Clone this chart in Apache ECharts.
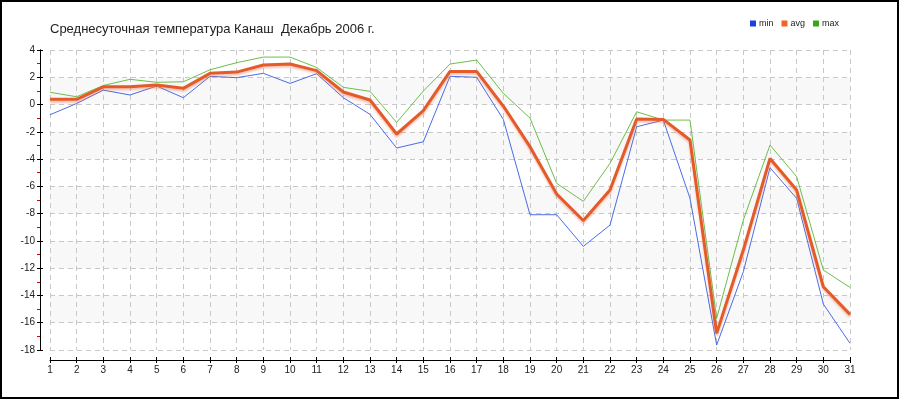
<!DOCTYPE html>
<html><head><meta charset="utf-8">
<script src="https://cdn.jsdelivr.net/npm/echarts@6/dist/echarts.min.js"></script>
<style>html,body{margin:0;padding:0;background:#fff}#c{width:900px;height:400px}</style>
</head><body><div id="c"></div>
<script>
const days = ['1','2','3','4','5','6','7','8','9','10','11','12','13','14','15','16','17','18','19','20','21','22','23','24','25','26','27','28','29','30','31'];
const minT = [-0.75,0.08,1.06,0.7,1.36,0.5,2.07,1.97,2.29,1.55,2.26,0.5,-0.72,-3.19,-2.73,2.07,2.0,-1.09,-8.08,-8.08,-10.4,-8.84,-1.63,-1.14,-6.88,-17.64,-12.26,-4.63,-6.88,-14.63,-17.51];
const avgT = [0.38,0.38,1.3,1.3,1.43,1.19,2.29,2.38,2.9,2.97,2.49,0.92,0.33,-2.16,-0.45,2.43,2.43,-0.11,-3.09,-6.56,-8.5,-6.27,-1.06,-1.09,-2.6,-16.78,-10.67,-3.95,-6.27,-13.36,-15.39];
const maxT = [0.9,0.57,1.4,1.85,1.63,1.67,2.55,3.07,3.48,3.48,2.72,1.26,0.97,-1.31,0.99,2.97,3.26,0.82,-0.99,-5.78,-7.1,-4.31,-0.53,-1.14,-1.14,-15.68,-8.47,-2.97,-5.29,-12.14,-13.41];
const yMin = -18, yMax = 4, yStep = 2;

const chart = echarts.init(document.getElementById('c'));
const font = 'Liberation Sans, Arial, sans-serif';
chart.setOption({
  animation: false,
  backgroundColor: '#fff',
  title: {
    text: 'Среднесуточная температура Канаш  Декабрь 2006 г.',
    left: 45, top: 18,
    textStyle: {fontFamily: font, fontSize: 13, fontWeight: 'normal', color: '#222'}
  },
  legend: {
    right: 56, top: 14,
    itemWidth: 6, itemHeight: 6, itemGap: 8,
    icon: 'rect',
    textStyle: {fontFamily: font, fontSize: 9, color: '#222', padding: [0,0,0,-2]},
    data: ['min','avg','max']
  },
  grid: {left: 50, right: 50, top: 50, bottom: 50},
  xAxis: [{
    type: 'category', data: days, boundaryGap: false, offset: 10,
    axisLine: {show: true, onZero: false, lineStyle: {color: '#000', width: 1}},
    axisTick: {show: true, length: 3, interval: 0, lineStyle: {color: '#000'}},
    axisLabel: {interval: 0, fontFamily: font, fontSize: 10, color: '#222', margin: 5},
    splitLine: {show: true, interval: 0, lineStyle: {color: '#c8c8c8', type: [5,4]}}
  }, {
    type: 'category', data: days, boundaryGap: false, offset: 10, position: 'bottom',
    axisLine: {show: false, onZero: false},
    axisTick: {show: true, inside: true, length: 3, interval: 0, lineStyle: {color: '#000'}},
    axisLabel: {show: false}, splitLine: {show: false}
  }],
  yAxis: [{
    type: 'value', min: yMin, max: yMax, interval: yStep, offset: 10, position: 'left',
    axisLine: {show: true, onZero: false, lineStyle: {color: '#000', width: 1}},
    axisTick: {show: true, length: 3, lineStyle: {color: '#000'}},
    minorTick: {show: true, splitNumber: 2, length: 3, lineStyle: {color: '#e00000'}},
    axisLabel: {fontFamily: font, fontSize: 10, color: '#222', margin: 5},
    splitLine: {show: true, lineStyle: {color: '#c8c8c8', type: [5,4]}},
    splitArea: {show: true, areaStyle: {color: ['#ffffff', '#f8f8f8']}}
  }, {
    type: 'value', min: yMin, max: yMax, interval: yStep, offset: 10, position: 'left',
    axisLine: {show: true, onZero: false, lineStyle: {color: '#000', width: 1}},
    axisTick: {show: true, inside: true, length: 3, lineStyle: {color: '#000'}},
    axisLabel: {show: false}, splitLine: {show: false}
  }],
  graphic: [{
    type: 'rect', shape: {x: 1, y: 1, width: 897, height: 397},
    style: {fill: 'none', stroke: '#000', lineWidth: 2}, silent: true, z: 100
  }],
  series: [
    {name: 'min', type: 'line', data: minT, symbol: 'none', color: '#1d3fe0',
     lineStyle: {color: '#4a6ce8', width: 1}, z: 3},
    {name: 'max', type: 'line', data: maxT, symbol: 'none', color: '#3aa516',
     lineStyle: {color: '#6cbf4a', width: 1}, z: 3},
    {name: 'avg', type: 'line', data: avgT, symbol: 'none', color: '#ef6526',
     lineStyle: {color: '#e35b2a', width: 3, shadowColor: 'rgba(235,110,70,0.4)', shadowBlur: 2, shadowOffsetY: 2}, z: 4}
  ]
});
</script></body></html>
